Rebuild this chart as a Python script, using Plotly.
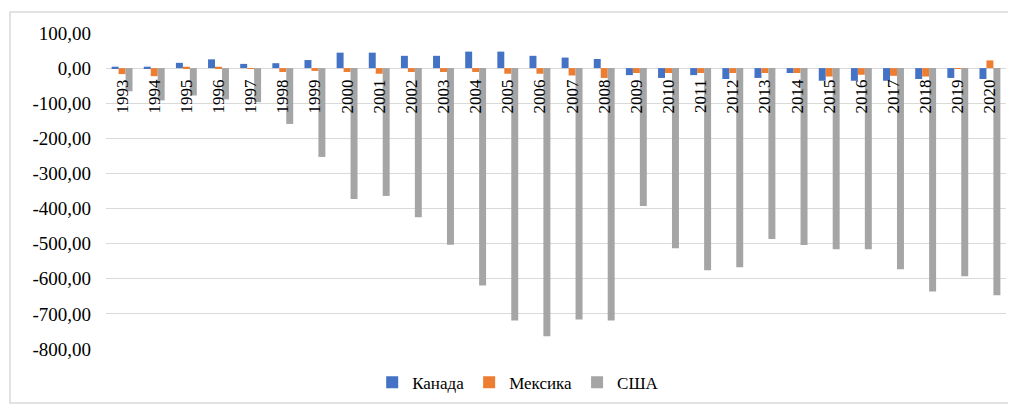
import plotly.graph_objects as go

years = [str(y) for y in range(1993, 2021)]
canada = [4, 4, 15, 25, 12, 14, 23, 44, 44, 35, 35, 47, 47, 35, 30, 26,
          -20, -28, -20, -31, -28, -14, -36, -36, -36, -31, -28, -31]
mexico = [-17, -23, 4, 4, -2, -11, -8, -11, -16, -11, -11, -11, -16, -16, -21, -28,
          -14, -14, -14, -14, -14, -14, -24, -19, -22, -24, -1, 22]
usa = [-66, -92, -78, -89, -97, -159, -253, -373, -364, -425, -503, -619, -719, -764,
       -716, -719, -393, -513, -576, -567, -487, -504, -516, -516, -573, -636, -593, -647]

y_tickvals = [100, 0, -100, -200, -300, -400, -500, -600, -700, -800]
y_ticktext = ["100,00", "0,00", "-100,00", "-200,00", "-300,00", "-400,00",
              "-500,00", "-600,00", "-700,00", "-800,00"]

series_names = ["Канада", "Мексика", "США"]
colors = ["#4472C4", "#ED7D31", "#A5A5A5"]

SERIF = "Liberation Serif"

# page body has an 8px margin, so everything is placed 8px up/left of the reference
OFF = 8
L, T = 106 - OFF, 33 - OFF
PW, PH = 900, 316
W, H = 1008, 398

fig = go.Figure()
for name, vals, c in zip(series_names, [canada, mexico, usa], colors):
    fig.add_trace(go.Bar(x=years, y=vals, name=name, marker_color=c,
                         marker_line_width=0))

ymin, ymax = -800, 100
fig.update_layout(
    width=W, height=H,
    margin=dict(l=L, r=W - L - PW, t=T, b=H - T - PH, autoexpand=False),
    paper_bgcolor="white", plot_bgcolor="white",
    barmode="group", bargap=0.35, bargroupgap=0,
    font=dict(family=SERIF, size=17, color="#000000"),
    legend=dict(orientation="h", x=0.458, xanchor="center", y=-0.05, yanchor="top",
                font=dict(family=SERIF, size=17, color="#000000"),
                bgcolor="rgba(0,0,0,0)", itemwidth=30, traceorder="normal"),
    xaxis=dict(type="category", tickangle=-90, showgrid=False, showline=False,
               ticks="", anchor="free", position=(0 - ymin) / (ymax - ymin),
               tickfont=dict(family=SERIF, size=17, color="#000000"),
               ticklabelstandoff=7, automargin=False),
    yaxis=dict(range=[ymin, ymax], tickvals=y_tickvals, ticktext=y_ticktext,
               showgrid=True, gridcolor="#D9D9D9", gridwidth=1,
               zeroline=True, zerolinecolor="#D9D9D9", zerolinewidth=1,
               showline=False, ticks="", ticklabelstandoff=14, automargin=False,
               tickfont=dict(family=SERIF, size=19, color="#000000")),
    shapes=[dict(type="rect", xref="paper", yref="paper",
                 x0=(10 - OFF - L) / PW, x1=(1013 - OFF - L) / PW,
                 y0=-(403 - OFF - (T + PH)) / PH, y1=1 + (T - (12 - OFF)) / PH,
                 line=dict(color="#D9D9D9", width=1.5), layer="below")],
)

fig.write_html("out.html")
